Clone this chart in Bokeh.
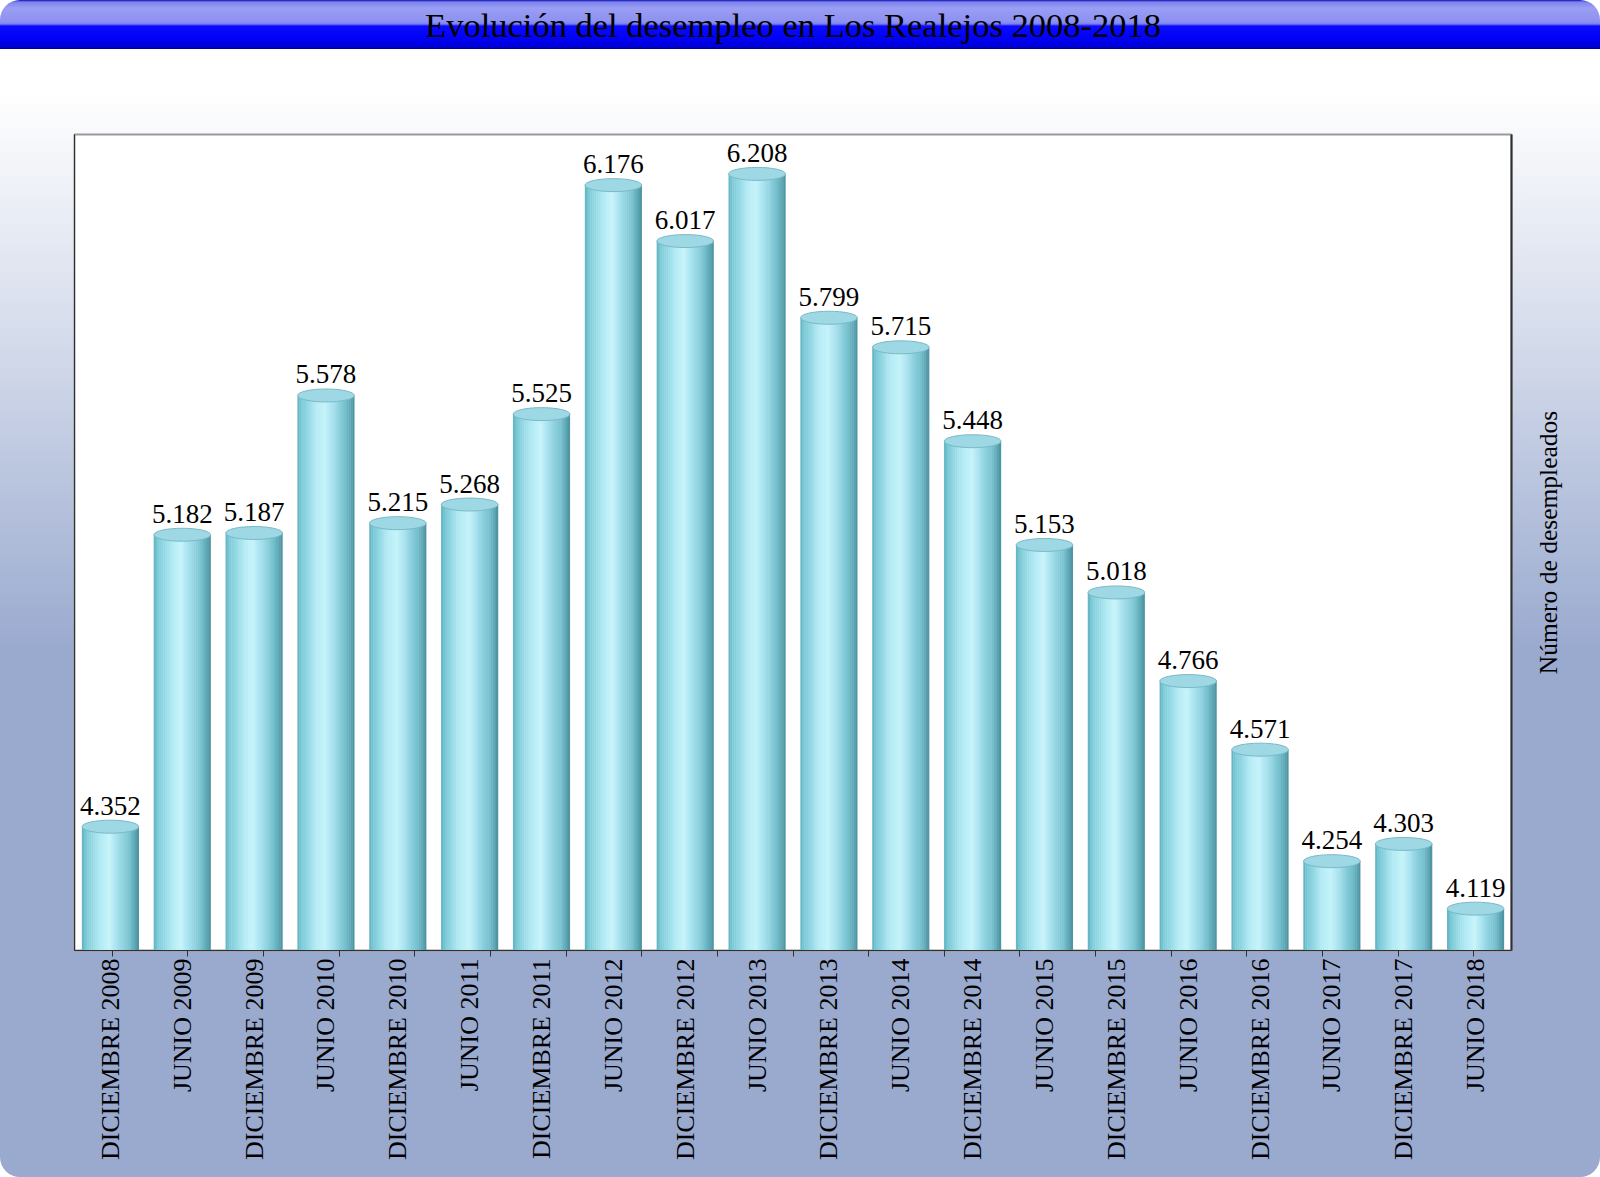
import math
from bokeh.plotting import figure
from bokeh.layouts import row
from bokeh.models import (ColumnDataSource, LabelSet, LinearAxis, CategoricalAxis,
                          Range1d, FixedTicker, FactorRange, CustomLabelingPolicy)
from bokeh.transform import dodge
from bokeh.embed import file_html
from bokeh.resources import INLINE
from bokeh.core.properties import value

# ---------------- data ----------------
periods = ["DICIEMBRE 2008", "JUNIO 2009", "DICIEMBRE 2009", "JUNIO 2010",
           "DICIEMBRE 2010", "JUNIO 2011", "DICIEMBRE 2011", "JUNIO 2012",
           "DICIEMBRE 2012", "JUNIO 2013", "DICIEMBRE 2013", "JUNIO 2014",
           "DICIEMBRE 2014", "JUNIO 2015", "DICIEMBRE 2015", "JUNIO 2016",
           "DICIEMBRE 2016", "JUNIO 2017", "DICIEMBRE 2017", "JUNIO 2018"]
desempleados = [4352, 5182, 5187, 5578, 5215, 5268, 5525, 6176, 6017, 6208,
                5799, 5715, 5448, 5153, 5018, 4766, 4571, 4254, 4303, 4119]
y_start = 4000
y_end = 6320
title_text = "Evolución del desempleo en Los Realejos 2008-2018"
y_label = "Número de desempleados"

labels = [f"{v:,}".replace(",", ".") for v in desempleados]
src = ColumnDataSource(dict(period=periods, val=desempleados, label=labels))

SERIF = "Liberation Serif"
H = 1177
W_MAIN, W_SIDE = 1520, 80
MB_L, MB_R, MB_T, MB_B = 74, 9, 134, 214

BG = ("linear-gradient(to bottom, #1010b0 0px, #7c82ee 2px, #9a9ef4 8px, "
      "#8c90f0 22px, #7a7ff0 24px, #0a0aff 26px, #0000f4 40px, #0000d0 47px, "
      "#000090 49px) top left / 100% 49px no-repeat, "
      "linear-gradient(to bottom, #ffffff 49px, #ffffff 90px, #d4dbeb 340px, "
      "#9aaacf 650px, #9aaacf 100%)")

p = figure(x_range=periods, y_range=Range1d(y_start, y_end),
           width=W_MAIN, height=H, output_backend="svg", toolbar_location=None,
           x_axis_location=None, y_axis_location=None,
           min_border_left=MB_L, min_border_right=MB_R,
           min_border_top=MB_T, min_border_bottom=MB_B)
p.grid.visible = False
p.border_fill_color = None
p.background_fill_color = "white"
p.outline_line_color = "#9a9a9a"
p.outline_line_width = 2
p.styles = {"border-radius": "20px 0 0 20px", "overflow": "hidden", "background": BG}

no_labels = CustomLabelingPolicy(code="return []")

# chart title, carried by an unlabeled axis above the frame
title_ax = CategoricalAxis(major_label_policy=no_labels,
                           major_label_text_font_size="0px", major_label_standoff=0,
                           major_tick_in=0, major_tick_out=0,
                           major_tick_line_color=None, minor_tick_line_color=None,
                           axis_line_color=None,
                           axis_label=title_text, axis_label_text_font=SERIF,
                           axis_label_text_font_size="34.5px",
                           axis_label_text_font_style="normal",
                           axis_label_text_color="black", axis_label_standoff=91)
p.add_layout(title_ax, "above")

# left wall line
left_ax = LinearAxis(ticker=FixedTicker(ticks=[]),
                     axis_line_color="#303030", major_tick_line_color=None,
                     minor_tick_line_color=None)
p.add_layout(left_ax, "left")

# right wall line
right_ax = LinearAxis(ticker=FixedTicker(ticks=[]),
                      axis_line_color="#303030", axis_line_width=2,
                      major_tick_line_color=None, minor_tick_line_color=None)
p.add_layout(right_ax, "right")

# tick marks at category boundaries (a factor range shifted by half a category)
bounds = ["b%d" % i for i in range(len(periods) + 1)]
p.extra_x_ranges = {"bounds": FactorRange(factors=bounds, range_padding=-1,
                                          range_padding_units="absolute")}
tick_ax = CategoricalAxis(x_range_name="bounds",
                          major_label_policy=no_labels,
                          major_label_text_font_size="0px",
                          major_label_standoff=0,
                          major_tick_in=0, major_tick_out=6,
                          axis_line_color="#303030", major_tick_line_color="#303030",
                          minor_tick_line_color=None)
p.add_layout(tick_ax, "below")

cat_ax = CategoricalAxis(major_label_orientation=math.pi / 2,
                         major_label_text_font=SERIF,
                         major_label_text_font_size="26px",
                         major_label_text_color="black",
                         axis_line_color=None, major_tick_line_color=None,
                         minor_tick_line_color=None, major_label_standoff=0)
try:
    cat_ax.major_label_standoff = -4
except Exception:
    pass
p.add_layout(cat_ax, "below")

# ---------------- cylinders ----------------
def lerp_color(stops, t):
    for (t0, c0), (t1, c1) in zip(stops, stops[1:]):
        if t0 <= t <= t1:
            f = (t - t0) / (t1 - t0) if t1 > t0 else 0
            a = [int(c0[i:i + 2], 16) for i in (1, 3, 5)]
            b = [int(c1[i:i + 2], 16) for i in (1, 3, 5)]
            return "#%02x%02x%02x" % tuple(round(a[k] + (b[k] - a[k]) * f) for k in range(3))
    return stops[-1][1]

shade = [(0.0, "#5fb0c0"), (0.07, "#7ccad8"), (0.33, "#b4ebf5"), (0.48, "#c6f3fa"),
         (0.62, "#a6e2ee"), (0.85, "#74bfcd"), (0.95, "#5aa2b0"), (1.0, "#4a8e9c")]

bw = 0.79
n = 30
for i in range(n):
    t = (i + 0.5) / n
    off = -bw / 2 + t * bw
    p.vbar(x=dodge("period", off, range=p.x_range), top="val", bottom=y_start,
           width=bw / n * 1.2, fill_color=lerp_color(shade, t), line_color=None,
           source=src)

p.ellipse(x="period", y="val", width=bw, height=13, height_units="screen",
          fill_color="#9dd8e4", line_color="#7ab9c6", line_width=1, source=src)

lbl = LabelSet(x="period", y="val", text="label", y_offset=12,
               text_baseline="alphabetic", text_align="center",
               text_font=value(SERIF), text_font_size="27px", text_color="black",
               background_fill_color="white", source=src)
try:
    lbl.padding = 8
except Exception:
    pass
p.add_layout(lbl)

# ---------------- right strip carrying the y-axis title ----------------
side = figure(x_range=Range1d(0, 1), y_range=Range1d(y_start, y_end),
              width=W_SIDE, height=H, output_backend="svg", toolbar_location=None,
              x_axis_location=None, y_axis_location=None,
              min_border_left=46, min_border_right=0,
              min_border_top=134, min_border_bottom=227)
side.grid.visible = False
side.border_fill_color = None
side.background_fill_color = None
side.outline_line_color = None
side.styles = {"border-radius": "0 20px 20px 0", "overflow": "hidden", "background": BG}
ylab_ax = LinearAxis(ticker=FixedTicker(ticks=[]),
                     axis_line_color=None, major_tick_line_color=None,
                     minor_tick_line_color=None,
                     axis_label=y_label, axis_label_text_font=SERIF,
                     axis_label_text_font_size="25.5px",
                     axis_label_text_font_style="normal",
                     axis_label_text_color="black", axis_label_standoff=4)
side.add_layout(ylab_ax, "left")

layout = row(p, side)
open("out.html", "w").write(file_html(layout, INLINE, title=title_text))
